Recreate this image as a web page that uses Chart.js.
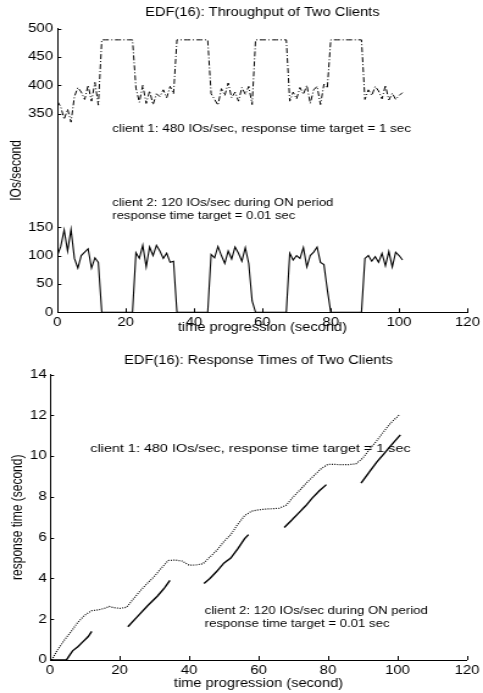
<!DOCTYPE html>
<html><head><meta charset="utf-8">
<script src="https://cdn.jsdelivr.net/npm/chart.js@4.4.1/dist/chart.umd.min.js"></script>
<style>
html,body{margin:0;padding:0;background:#fff;overflow:hidden;}
#wrap{position:relative;width:483px;height:693px;background:#fff;}
</style></head><body>
<div id="wrap">
<canvas id="topChart" width="396" height="340" style="position:absolute;left:0;top:0;width:483px;height:340px;"></canvas>
<canvas id="bottomChart" width="396" height="353" style="position:absolute;left:0;top:340px;width:483px;height:353px;"></canvas>
</div>
<script>
// ---------- data ----------
const timeTicks = [0, 20, 40, 60, 80, 100, 120];
const throughputTicks = [0, 50, 100, 150, 350, 400, 450, 500];
const responseTicks = [0, 2, 4, 6, 8, 10, 12, 14];

const seconds = [0,1,2,3,4,5,6,7,8,9,10,11,12,13,14,15,16,17,18,19,20,21,22,23,24,25,26,27,28,29,30,31,32,33,34,35,36,37,38,39,40,41,42,43,44,45,46,47,48,49,50,51,52,53,54,55,56,57,58,59,60,61,62,63,64,65,66,67,68,69,70,71,72,73,74,75,76,77,78,79,80,81,82,83,84,85,86,87,88,89,90,91,92,93,94,95,96,97,98,99,100,101];

const throughputClient1 = [372,362,340,358,335,380,396,388,375,400,372,405,365,
  480,480,480,480,480,480,480,480,480,480,
  395,370,400,368,390,366,385,380,392,378,398,385,
  480,480,480,480,480,480,480,480,480,480,
  385,375,365,394,382,404,378,388,372,396,384,398,366,
  480,480,480,480,480,480,480,480,480,480,
  372,388,376,396,384,400,368,392,398,366,402,395,
  480,480,480,480,480,480,480,480,480,480,
  375,392,382,398,390,376,400,374,386,375,382,387];

const throughputClient2 = [100,116,145,108,146,95,78,100,106,112,78,96,88,
  0,0,0,0,0,0,0,0,0,0,
  105,95,118,80,115,100,118,108,95,104,88,90,
  0,0,0,0,0,0,0,0,0,0,
  102,96,116,100,86,108,94,115,104,90,114,86,20,
  0,0,0,0,0,0,0,0,0,0,
  104,92,100,95,114,80,100,106,115,88,84,40,
  0,0,0,0,0,0,0,0,0,0,
  95,100,90,98,88,104,82,107,80,106,100,92];

const responseClient1Sec = [0.5,2,4,6,8,10,12,14,16,17,18,20,22,24,26,28,30,32,34,36,38,40,42,44,46,48,50,52,54,56,58,60,62,64,66,68,70,72,74,76,78,80,82,84,86,88,90,92,94,96,98,100.5];
const responseClient1 = [0,0.45,0.95,1.38,1.85,2.2,2.42,2.46,2.55,2.63,2.58,2.53,2.58,3.0,3.4,3.76,4.1,4.5,4.88,4.9,4.85,4.65,4.66,4.72,5.05,5.38,5.8,6.15,6.65,7.08,7.3,7.36,7.4,7.42,7.44,7.6,8.0,8.35,8.72,9.05,9.38,9.6,9.59,9.58,9.58,9.62,9.9,10.35,10.75,11.2,11.62,12.02];

const responseClient2Sec = [0,2,4.8,5.5,6.5,8,9.5,11,12, 17, 22.4,25,28,31,33,34.5, 40, 44.3,46,48,50,52,54,56,57.1, 62, 67.4,69.5,71.5,73.5,75.5,77.5,79.5, 85, 89.5,92,94,96,98,100.8];
const responseClient2 = [0,0,0.02,0.2,0.45,0.65,0.9,1.15,1.4, null, 1.63,2.1,2.65,3.15,3.55,3.9, null, 3.75,4.0,4.35,4.75,5.0,5.45,5.95,6.15, null, 6.5,6.85,7.2,7.55,7.95,8.3,8.6, null, 8.67,9.25,9.7,10.1,10.5,11.04];

// ---------- helpers ----------
const FAMILY = "'Liberation Sans', Arial, Helvetica, sans-serif";
Chart.defaults.font.family = FAMILY;
Chart.defaults.font.size = 12;
Chart.defaults.color = '#000';

const pairs = (xs, ys) => xs.map((t, i) => ({x: t, y: ys[i]}));

const axisDecor = {
  id: 'axisDecor',
  afterDraw(chart, args, opts) {
    const {ctx, chartArea: a, scales: {x, y}} = chart;
    ctx.save();
    ctx.strokeStyle = '#000';
    ctx.lineWidth = 1;
    ctx.beginPath();
    x.ticks.forEach(t => {
      const px = Math.round(x.getPixelForValue(t.value)) + 0.5;
      ctx.moveTo(px, a.bottom);
      ctx.lineTo(px, a.bottom - opts.xTickLen);
    });
    y.ticks.forEach(t => {
      const py = Math.round(y.getPixelForValue(t.value)) + 0.5;
      ctx.moveTo(a.left, py);
      ctx.lineTo(a.left + opts.yTickLen, py);
    });
    ctx.stroke();
    ctx.fillStyle = '#000';
    ctx.textAlign = 'left';
    ctx.textBaseline = 'middle';
    (opts.notes || []).forEach(n => {
      ctx.font = n.size + 'px ' + FAMILY;
      ctx.fillText(n.text, x.getPixelForValue(n.x), y.getPixelForValue(n.y));
    });
    ctx.restore();
  }
};

function makeScales(o) {
  return {
    x: {
      type: 'linear', min: 0, max: 120,
      afterBuildTicks: s => { s.ticks = timeTicks.map(v => ({value: v})); },
      grid: {display: false, drawTicks: false},
      border: {display: true, color: '#000', width: 1},
      ticks: {padding: o.xTickPad, maxRotation: 0, autoSkip: false, font: {size: 12.3}},
      title: {display: true, text: 'time progression (second)', font: {size: 12}, padding: 0},
      afterFit: s => { s.height = o.xHeight; }
    },
    y: {
      type: 'linear', min: o.yMin, max: o.yMax,
      afterBuildTicks: s => { s.ticks = o.yTicks.map(v => ({value: v})); },
      grid: {display: false, drawTicks: false},
      border: {display: true, color: '#000', width: 1},
      ticks: {padding: o.yTickPad, autoSkip: false, font: {size: 12.3}},
      title: {display: true, text: o.yTitle, font: {size: 12}, padding: {top: o.yTitlePad, bottom: 0}},
      afterFit: s => { s.width = o.yWidth; }
    }
  };
}

// ---------- top chart: throughput ----------
new Chart(document.getElementById('topChart'), {
  type: 'line',
  data: {
    datasets: [
      {label: 'client 1', data: pairs(seconds, throughputClient1), borderColor: '#000', borderWidth: 1,
       borderDash: [5, 2, 1, 2], pointRadius: 0, fill: false, tension: 0},
      {label: 'client 2', data: pairs(seconds, throughputClient2), borderColor: '#000', borderWidth: 1.1,
       pointRadius: 0, fill: false, tension: 0}
    ]
  },
  options: {
    responsive: false, animation: false, devicePixelRatio: 1, events: [],
    layout: {padding: {left: 0, right: 10.1, top: 0, bottom: 4.8}},
    plugins: {
      legend: {display: false}, tooltip: {enabled: false},
      title: {display: true, text: 'EDF(16): Throughput of Two Clients', fullSize: false,
              font: {size: 12, weight: 'normal'}, padding: {top: 5.8, bottom: 8.3}},
      axisDecor: {
        xTickLen: 4, yTickLen: 3.3,
        notes: [
          {text: 'client 1: 480 IOs/sec, response time target = 1 sec', x: 16.1, y: 323, size: 11},
          {text: 'client 2: 120 IOs/sec during ON period', x: 16.1, y: 192, size: 10.7},
          {text: 'response time target = 0.01 sec', x: 16.1, y: 170, size: 10.7}
        ]
      }
    },
    scales: makeScales({xTickPad: 2.5, xHeight: 22.9, yMin: 0, yMax: 500, yTicks: throughputTicks,
                        yTickPad: 3.5, yTitle: 'IOs/second', yTitlePad: 6.7, yWidth: 47})
  },
  plugins: [axisDecor]
});

// ---------- bottom chart: response times ----------
new Chart(document.getElementById('bottomChart'), {
  type: 'line',
  data: {
    datasets: [
      {label: 'client 1', data: pairs(responseClient1Sec, responseClient1), borderColor: '#000', borderWidth: 1.2,
       borderDash: [1, 1.2], pointRadius: 0, fill: false, tension: 0},
      {label: 'client 2', data: pairs(responseClient2Sec, responseClient2), borderColor: '#000', borderWidth: 1.4,
       pointRadius: 0, fill: false, tension: 0, spanGaps: false}
    ]
  },
  options: {
    responsive: false, animation: false, devicePixelRatio: 1, events: [],
    layout: {padding: {left: 0, right: 10.7, top: 0, bottom: 1.8}},
    plugins: {
      legend: {display: false}, tooltip: {enabled: false},
      title: {display: true, text: 'EDF(16): Response Times of Two Clients', fullSize: false,
              font: {size: 12, weight: 'normal'}, padding: {top: 13.8, bottom: 6.3}},
      axisDecor: {
        xTickLen: 4, yTickLen: 3.3,
        notes: [
          {text: 'client 1: 480 IOs/sec, response time target = 1 sec', x: 11.6, y: 10.35, size: 11.8},
          {text: 'client 2: 120 IOs/sec during ON period', x: 44.5, y: 2.4, size: 10.8},
          {text: 'response time target = 0.01 sec', x: 44.5, y: 1.77, size: 10.8}
        ]
      }
    },
    scales: makeScales({xTickPad: 2.8, xHeight: 31.2, yMin: 0, yMax: 14, yTicks: responseTicks,
                        yTickPad: 2.7, yTitle: 'response time (second)', yTitlePad: 7.6, yWidth: 41})
  },
  plugins: [axisDecor]
});
</script>
</body></html>
